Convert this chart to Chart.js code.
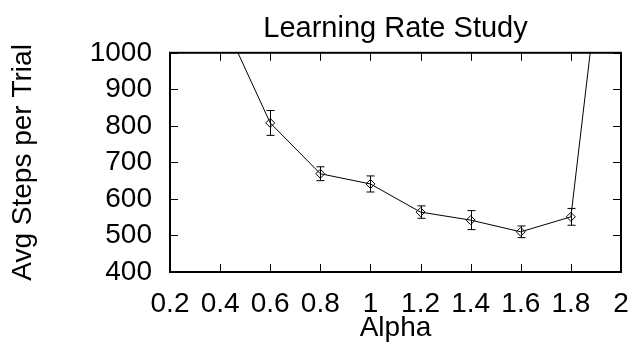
<!DOCTYPE html>
<html>
<head>
<meta charset="utf-8">
<script src="https://cdn.jsdelivr.net/npm/chart.js@4"></script>
<style>
  html, body { margin: 0; padding: 0; background: #fff; }
  #wrap { width: 634px; height: 348px; }
</style>
</head>
<body>
<div id="wrap"><canvas id="grafico"></canvas></div>
<script>
// values
const alphas = [0.4, 0.6, 0.8, 1.0, 1.2, 1.4, 1.6, 1.8, 2.0];
const avgSteps = [1106, 808, 669, 641, 564, 542, 510, 551, 1717];
const stepErr = [60, 34, 19, 22, 17, 26, 16, 23, 80];
const xTickLabels = ['0.2', '0.4', '0.6', '0.8', '1', '1.2', '1.4', '1.6', '1.8', '2'];
const yTickLabels = ['400', '500', '600', '700', '800', '900', '1000'];

const FONT = "'Liberation Sans', Arial, sans-serif";

// box round the plot, inward ticks on all four sides, error bars
const marcoGnuplot = {
  id: 'marcoGnuplot',
  afterDatasetsDraw(chart) {
    const ctx = chart.ctx;
    const a = chart.chartArea;
    const x = chart.scales.x;
    const y = chart.scales.y;
    ctx.save();
    ctx.strokeStyle = '#000';
    ctx.lineWidth = 1;

    // error bars
    ctx.save();
    ctx.beginPath();
    ctx.rect(a.left, a.top, a.right - a.left, a.bottom - a.top);
    ctx.clip();
    ctx.beginPath();
    alphas.forEach((al, i) => {
      const px = Math.round(x.getPixelForValue(al)) + 0.5;
      const top = y.getPixelForValue(avgSteps[i] + stepErr[i]);
      const bot = y.getPixelForValue(avgSteps[i] - stepErr[i]);
      ctx.moveTo(px, top); ctx.lineTo(px, bot);
      ctx.moveTo(px - 4, top); ctx.lineTo(px + 4, top);
      ctx.moveTo(px - 4, bot); ctx.lineTo(px + 4, bot);
    });
    ctx.stroke();
    ctx.restore();

    // ticks
    ctx.beginPath();
    x.ticks.forEach(t => {
      const px = Math.round(x.getPixelForValue(t.value)) + 0.5;
      ctx.moveTo(px, a.bottom); ctx.lineTo(px, a.bottom - 8);
      ctx.moveTo(px, a.top); ctx.lineTo(px, a.top + 8);
    });
    y.ticks.forEach(t => {
      const py = Math.round(y.getPixelForValue(t.value)) + 0.5;
      ctx.moveTo(a.left, py); ctx.lineTo(a.left + 8, py);
      ctx.moveTo(a.right, py); ctx.lineTo(a.right - 8, py);
    });
    ctx.stroke();

    ctx.lineWidth = 2;
    ctx.strokeRect(a.left, a.top, a.right - a.left, a.bottom - a.top);
    ctx.restore();
  }
};

new Chart(document.getElementById('grafico'), {
  type: 'line',
  data: {
    datasets: [{
      data: alphas.map((a, i) => ({ x: a, y: avgSteps[i] })),
      borderColor: '#000',
      borderWidth: 1,
      pointStyle: 'rectRot',
      pointRadius: 4.5,
      pointBackgroundColor: 'rgba(255,255,255,0)',
      pointBorderColor: '#000',
      pointBorderWidth: 1,
      tension: 0
    }]
  },
  options: {
    responsive: true,
    maintainAspectRatio: false,
    animation: false,
    events: [],
    layout: { padding: { left: 0, right: 13, top: 0, bottom: 0 } },
    plugins: {
      legend: { display: false },
      tooltip: { enabled: false },
      title: {
        display: true,
        fullSize: false,
        text: 'Learning Rate Study',
        color: '#000',
        font: { family: FONT, size: 29, weight: 'normal' },
        padding: { top: 12, bottom: 6 }
      }
    },
    scales: {
      x: {
        type: 'linear',
        min: 0.2,
        max: 2,
        afterBuildTicks: s => { s.ticks = xTickLabels.map(v => ({ value: Number(v) })); },
        afterFit: s => { s.height = 76; s.paddingLeft = 0; s.paddingRight = 0; },
        grid: { display: false, drawTicks: false },
        border: { display: false },
        ticks: {
          color: '#000',
          padding: 15,
          maxRotation: 0,
          autoSkip: false,
          font: { family: FONT, size: 28 },
          callback: (v, i) => xTickLabels[i]
        },
        title: {
          display: true,
          text: 'Alpha',
          color: '#000',
          font: { family: FONT, size: 28 },
          padding: { top: 0, bottom: 3 }
        }
      },
      y: {
        min: 400,
        max: 1000,
        afterBuildTicks: s => { s.ticks = yTickLabels.map(v => ({ value: Number(v) })); },
        afterFit: s => { s.width = 170; s.paddingTop = 0; s.paddingBottom = 0; },
        grid: { display: false, drawTicks: false },
        border: { display: false },
        ticks: {
          color: '#000',
          padding: 18,
          autoSkip: false,
          font: { family: FONT, size: 28 },
          callback: (v, i) => yTickLabels[i]
        },
        title: {
          display: true,
          text: 'Avg Steps per Trial',
          color: '#000',
          font: { family: FONT, size: 28 },
          padding: { top: 6, bottom: 0 }
        }
      }
    }
  },
  plugins: [marcoGnuplot]
});
</script>
</body>
</html>
